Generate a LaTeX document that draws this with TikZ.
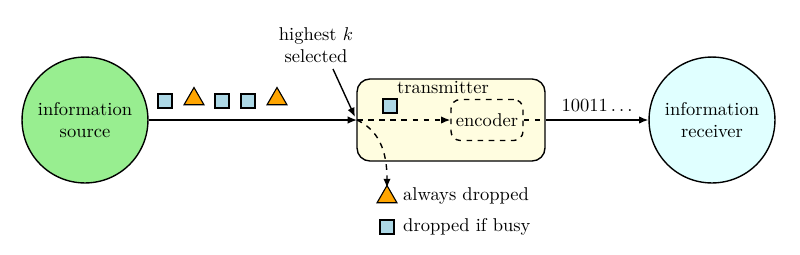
\documentclass[tikz,border=0pt]{standalone}
\usetikzlibrary{arrows.meta,shapes.geometric,positioning}
\definecolor{srcgreen}{HTML}{98EE90}
\definecolor{rcvcyan}{HTML}{E0FFFF}
\definecolor{txyellow}{HTML}{FFFDE0}
\definecolor{pktblue}{HTML}{ADD8E6}
\definecolor{pktorange}{HTML}{FFA500}
\tikzset{
  endpoint/.style={circle,draw,line width=0.75pt,minimum size=68pt,align=center,inner sep=1pt},
  sqpkt/.style={rectangle,draw,line width=0.6pt,fill=pktblue,minimum size=7.6pt,inner sep=0pt},
  tripkt/.style={regular polygon,regular polygon sides=3,draw,line width=0.6pt,fill=pktorange,minimum size=12.4pt,inner sep=0pt},
  conn/.style={line width=0.75pt,-{Latex[length=5pt,width=4pt]}},
  legendtext/.style={anchor=west,inner sep=1pt}
}
\begin{document}
\begin{tikzpicture}[x=0.54pt,y=-0.54pt]
\useasboundingbox (0,0) rectangle (800,254);
% endpoints
\node[endpoint,fill=srcgreen] (src) at (85,120) {information\\source};
\node[endpoint,fill=rcvcyan] (rcv) at (712,120) {information\\receiver};
% transmitter
\node[draw,line width=0.75pt,fill=txyellow,rounded corners=7pt,minimum width=101.5pt,minimum height=44.3pt] (tx) at (451,120) {};
\node (txlabel) at (443,88) {transmitter};
\node[draw,dashed,line width=0.75pt,rounded corners=5pt,minimum width=38.9pt,minimum height=22.1pt,inner sep=0pt] (enc) at (487,120) {encoder};
\node[sqpkt] (txpkt) at (390,106) {};
% queue point
\coordinate (sel) at (357,120);
% packets
\node[sqpkt] (p1) at (165,101) {};
\node[tripkt] (p2) at (194,99) {};
\node[sqpkt] (p3) at (222,101) {};
\node[sqpkt] (p4) at (248,101) {};
\node[tripkt] (p5) at (277,99) {};
% connectors
\draw[conn] (src.east) -- (sel);
\draw[conn,dashed] (sel) -- (enc.west);
\draw[line width=0.75pt,dashed] (enc.east) -- (tx.east);
\draw[conn] (tx.east) -- node[above=1pt] {$10011\ldots$} (rcv.west);
% highest k
\node[align=center] (hk) at (316,45) {highest $k$\\selected};
\coordinate (hkfrom) at (333,69);
\draw[conn] (hkfrom) -- (355,117);
% drop path
\coordinate (droptip) at (387,188);
\draw[conn,dashed] (sel) to[out=-25,in=90] (droptip);
% legend
\node[tripkt] (ltri) at (387,197) {};
\node[legendtext] (ltritext) at (401,196) {always dropped};
\node[sqpkt] (lsq) at (387,227) {};
\node[legendtext] (lsqtext) at (401,227) {dropped if busy};
\end{tikzpicture}
\end{document}
